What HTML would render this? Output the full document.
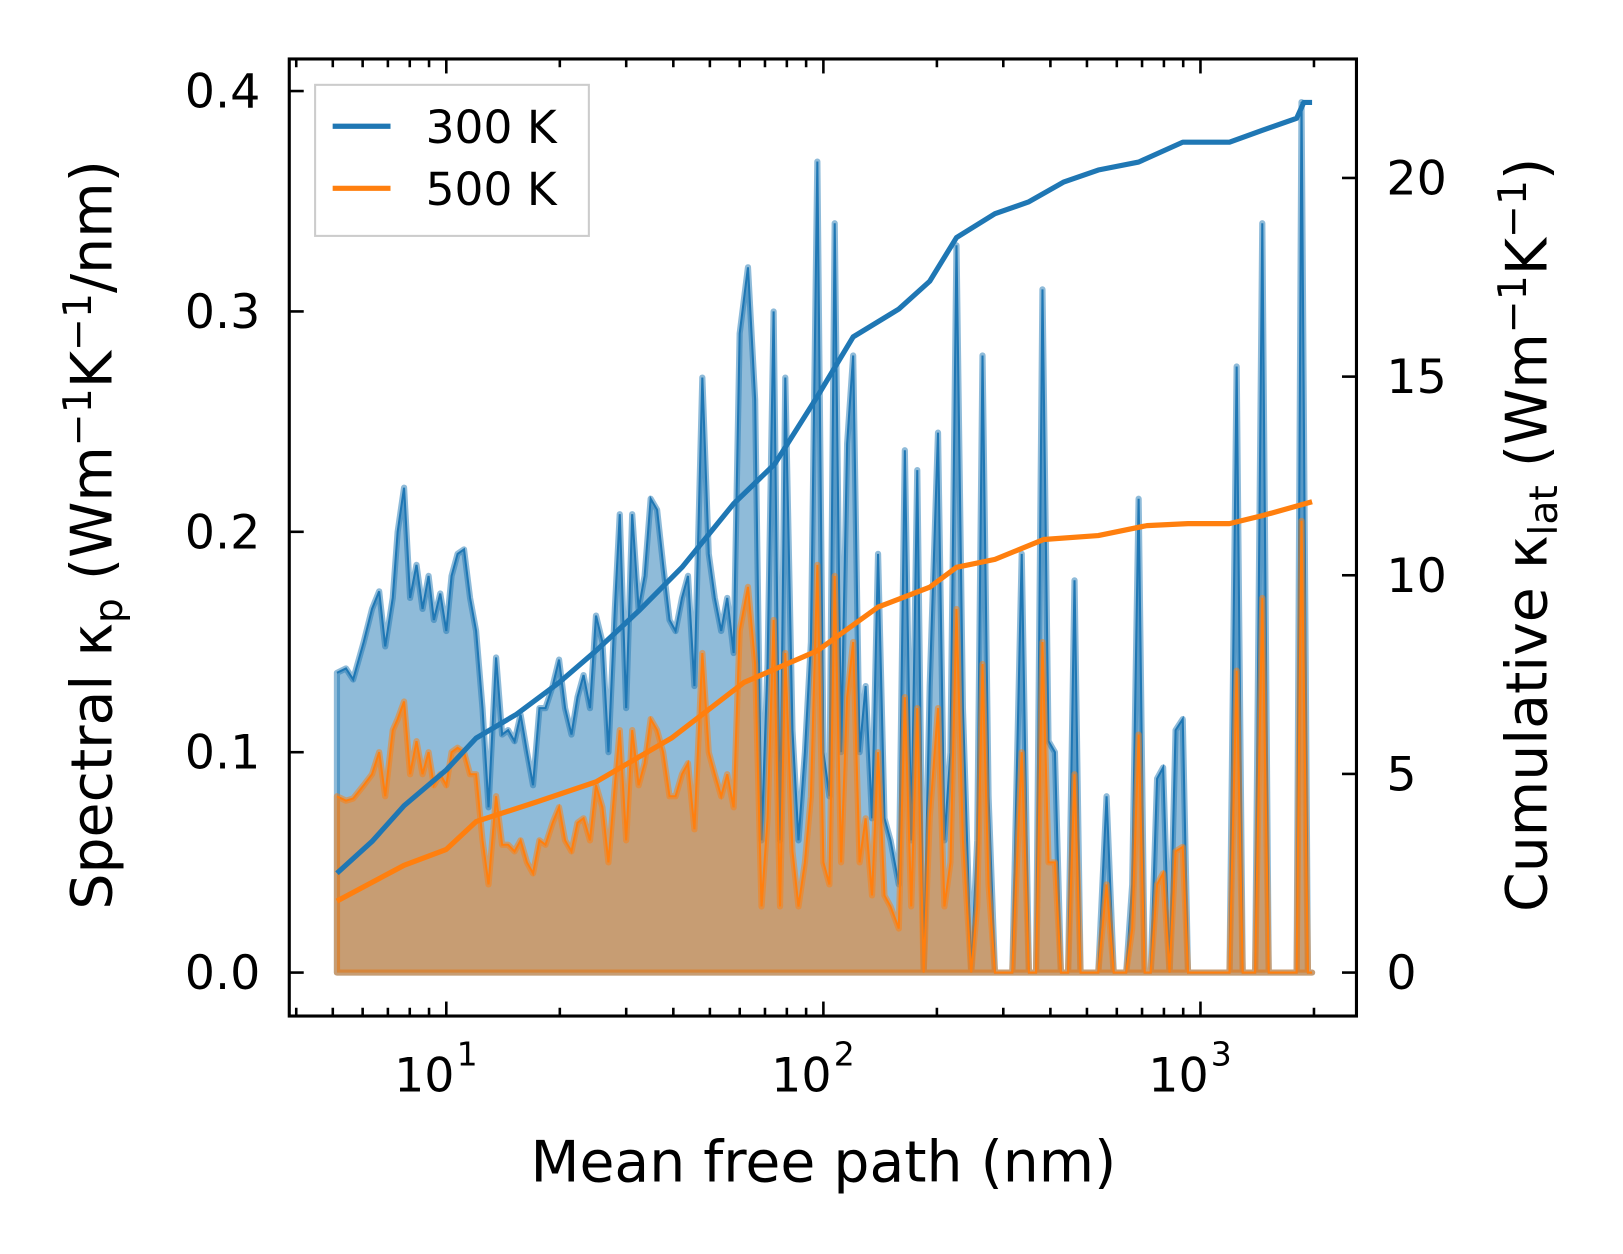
<!DOCTYPE html>
<html><head><meta charset="utf-8">
<style>html,body{margin:0;padding:0;background:#fff}svg{display:block}text{font-family:"DejaVu Sans","Liberation Sans",sans-serif;fill:#000}</style>
</head><body>
<svg id="chart" width="1623" height="1254" viewBox="0 0 1571 1212" preserveAspectRatio="none" xmlns="http://www.w3.org/2000/svg">
<g id="plot"></g>
</svg>
<script>
// log10 of mean free path (nm)
const logMfp = [0.710,0.734,0.753,0.781,0.803,0.822,0.838,0.858,0.871,0.888,0.904,0.921,0.937,0.953,0.967,0.984,1.000,1.014,1.030,1.047,1.063,1.079,1.096,1.112,1.132,1.148,1.164,1.181,1.197,1.214,1.230,1.247,1.263,1.282,1.299,1.315,1.332,1.348,1.364,1.381,1.397,1.414,1.430,1.447,1.460,1.477,1.493,1.510,1.526,1.542,1.559,1.575,1.592,1.608,1.625,1.641,1.658,1.679,1.696,1.712,1.729,1.745,1.762,1.778,1.800,1.819,1.836,1.852,1.868,1.885,1.899,1.918,1.934,1.951,1.967,1.984,2.000,2.016,2.030,2.047,2.063,2.079,2.096,2.112,2.129,2.145,2.162,2.178,2.200,2.216,2.233,2.249,2.266,2.282,2.304,2.321,2.337,2.353,2.370,2.392,2.408,2.422,2.438,2.455,2.479,2.501,2.526,2.545,2.564,2.581,2.597,2.614,2.630,2.649,2.666,2.682,2.729,2.751,2.770,2.803,2.819,2.836,2.852,2.868,2.885,2.901,2.918,2.934,2.953,2.967,2.981,3.077,3.096,3.112,3.145,3.164,3.181,3.255,3.268,3.285,3.296];
const spec300 = [0.136,0.138,0.133,0.15,0.165,0.173,0.148,0.17,0.2,0.22,0.17,0.185,0.165,0.18,0.16,0.172,0.155,0.18,0.19,0.192,0.17,0.155,0.12,0.075,0.143,0.108,0.11,0.105,0.117,0.1,0.085,0.12,0.12,0.13,0.142,0.12,0.108,0.125,0.135,0.12,0.162,0.15,0.1,0.165,0.208,0.12,0.208,0.165,0.18,0.215,0.21,0.185,0.16,0.155,0.17,0.18,0.13,0.27,0.19,0.17,0.155,0.17,0.145,0.29,0.32,0.26,0.06,0.14,0.3,0.06,0.27,0.11,0.06,0.1,0.15,0.368,0.1,0.08,0.34,0.1,0.24,0.28,0.1,0.13,0.07,0.19,0.07,0.06,0.04,0.237,0.06,0.228,0.0,0.13,0.245,0.06,0.1,0.33,0.12,0.0,0.06,0.28,0.08,0.0,0.0,0.0,0.19,0.0,0.0,0.31,0.105,0.1,0.0,0.0,0.178,0.0,0.0,0.08,0.0,0.0,0.04,0.215,0.0,0.0,0.088,0.093,0.0,0.11,0.115,0.0,0.0,0.0,0.275,0.0,0.0,0.34,0.0,0.0,0.395,0.0,0.0];
const spec500 = [0.08,0.078,0.079,0.085,0.09,0.1,0.08,0.11,0.115,0.123,0.09,0.105,0.09,0.1,0.085,0.09,0.085,0.1,0.102,0.1,0.09,0.09,0.06,0.04,0.08,0.058,0.058,0.055,0.06,0.05,0.045,0.06,0.058,0.068,0.075,0.06,0.055,0.068,0.07,0.06,0.085,0.075,0.05,0.085,0.11,0.06,0.11,0.085,0.095,0.115,0.11,0.1,0.08,0.08,0.09,0.095,0.065,0.145,0.1,0.09,0.08,0.09,0.075,0.155,0.175,0.14,0.03,0.07,0.16,0.03,0.145,0.055,0.03,0.05,0.08,0.185,0.05,0.04,0.18,0.05,0.125,0.15,0.05,0.07,0.035,0.1,0.035,0.03,0.02,0.125,0.03,0.12,0.0,0.07,0.12,0.03,0.05,0.165,0.06,0.0,0.03,0.14,0.04,0.0,0.0,0.0,0.1,0.0,0.0,0.15,0.05,0.05,0.0,0.0,0.09,0.0,0.0,0.04,0.0,0.0,0.02,0.108,0.0,0.0,0.04,0.045,0.0,0.055,0.057,0.0,0.0,0.0,0.137,0.0,0.0,0.17,0.0,0.0,0.205,0.0,0.0];
// cumulative kappa (W/mK)
const cumLog300 = [0.710,0.803,0.888,1.000,1.079,1.186,1.299,1.397,1.510,1.625,1.762,1.871,1.984,2.079,2.200,2.282,2.353,2.455,2.545,2.638,2.729,2.836,2.953,3.077,3.164,3.255,3.274,3.296];
const cum300 = [2.5,3.3,4.2,5.1,5.9,6.5,7.3,8.1,9.1,10.2,11.8,12.8,14.5,16.0,16.7,17.4,18.5,19.1,19.4,19.9,20.2,20.4,20.9,20.9,21.2,21.5,21.9,21.9];
const cumLog500 = [0.710,0.888,1.000,1.079,1.241,1.397,1.597,1.789,1.984,2.145,2.282,2.353,2.455,2.584,2.729,2.858,2.967,3.077,3.164,3.296];
const cum500 = [1.8,2.7,3.1,3.8,4.3,4.8,5.9,7.3,8.1,9.2,9.7,10.2,10.4,10.9,11.0,11.25,11.3,11.3,11.5,11.85];
const leftTicks = [0.0,0.1,0.2,0.3,0.4];
const leftTickLabels = ["0.0","0.1","0.2","0.3","0.4"];
const rightTicks = [0,5,10,15,20];
const xMajor = [1,2,3];

const L=280,R=1313,T=57,B=982;
const X = lg => 432 + (lg-1)*365;
const Y1 = v => 940 - v*2130;
const Y2 = v => 940 - v*38.4;
const NS="http://www.w3.org/2000/svg";
const g=document.getElementById('plot');
function mk(tag,attrs,parent){const e=document.createElementNS(NS,tag);for(const k in attrs)e.setAttribute(k,attrs[k]);(parent||g).appendChild(e);return e;}

function areaPath(vals){let d=`M${X(logMfp[0])},${Y1(0)}`;logMfp.forEach((l,i)=>{d+=`L${X(l)},${Y1(vals[i])}`});d+=`L${X(logMfp[logMfp.length-1])},${Y1(0)}Z`;return d;}
function linePath(xs,ys,fy){return xs.map((l,i)=>(i?'L':'M')+X(l)+','+fy(ys[i])).join('');}

let e=mk('path',{d:areaPath(spec300),fill:'#1f77b4','fill-opacity':0.5,stroke:'#1f77b4','stroke-opacity':0.5,'stroke-width':6,'stroke-linejoin':'round'});


e=mk('path',{d:linePath(logMfp,spec300,Y1),fill:'none',stroke:'#1f77b4','stroke-width':2});


e=mk('path',{d:areaPath(spec500),fill:'#ff7f0e','fill-opacity':0.5,stroke:'#ff7f0e','stroke-opacity':0.5,'stroke-width':6,'stroke-linejoin':'round'});


e=mk('path',{d:linePath(logMfp,spec500,Y1),fill:'none',stroke:'#ff7f0e','stroke-width':2});


e=mk('path',{d:linePath(cumLog300,cum300,Y2),fill:'none',stroke:'#1f77b4','stroke-width':5,'stroke-linejoin':'round'});


e=mk('path',{d:linePath(cumLog500,cum500,Y2),fill:'none',stroke:'#ff7f0e','stroke-width':5,'stroke-linejoin':'round'});



e=mk('rect',{x:L,y:T,width:R-L,height:B-T,fill:'none',stroke:'#000','stroke-width':3});



for(let d=0;d<=3;d++){for(let m=1;m<=9;m++){const lg=d+Math.log10(m);const px=X(lg);if(px<=L+1||px>=R-1)continue;const len=m===1?14:8;
 e=mk('line',{x1:px,x2:px,y1:B,y2:B-len,stroke:'#000','stroke-width':2.5});
 
 
 mk('line',{x1:px,x2:px,y1:T,y2:T+len,stroke:'#000','stroke-width':2.5});}}
xMajor.forEach(p=>{const t=mk('text',{x:X(p)+8,y:1055,'font-size':46,'text-anchor':'end'});t.textContent='10';
 
 
 const s=mk('text',{x:X(p)+10,y:1030,'font-size':32});s.textContent=String(p);});
leftTicks.forEach((v,i)=>{mk('line',{x1:L,x2:L+14,y1:Y1(v),y2:Y1(v),stroke:'#000','stroke-width':2.5});
 const t=mk('text',{x:252,y:Y1(v)+16,'font-size':46,'text-anchor':'end'});t.textContent=leftTickLabels[i];
 
 });
rightTicks.forEach(v=>{mk('line',{x1:R,x2:R-14,y1:Y2(v),y2:Y2(v),stroke:'#000','stroke-width':2.5});
 const t=mk('text',{x:1342,y:Y2(v)+16,'font-size':46});t.textContent=String(v);
 
 });
</script>
<svg style="position:absolute;left:0;top:0" width="1623" height="1254" viewBox="0 0 1571 1212" preserveAspectRatio="none" xmlns="http://www.w3.org/2000/svg">
<text x="797" y="1142" font-size="55" text-anchor="middle" style="font-family:'DejaVu Sans',sans-serif">Mean free path (nm)</text>
<text transform="translate(108,517) rotate(-90)" font-size="55" text-anchor="middle" style="font-family:'DejaVu Sans',sans-serif">Spectral κ<tspan font-size="38" dy="10">p</tspan><tspan dy="-10"> (Wm</tspan><tspan font-size="38" dy="-20">−1</tspan><tspan dy="20">K</tspan><tspan font-size="38" dy="-20">−1</tspan><tspan dy="20">/nm)</tspan></text>
<text transform="translate(1497,517) rotate(-90)" font-size="55" text-anchor="middle" style="font-family:'DejaVu Sans',sans-serif">Cumulative κ<tspan font-size="38" dy="10">lat</tspan><tspan dy="-10"> (Wm</tspan><tspan font-size="38" dy="-20">−1</tspan><tspan dy="20">K</tspan><tspan font-size="38" dy="-20">−1</tspan><tspan dy="20">)</tspan></text>
<g>
<rect x="305" y="82" width="265" height="146" fill="#fff" fill-opacity="0.8" stroke="#ccc" stroke-width="2"/>
<line x1="322" x2="378" y1="122" y2="122" stroke="#1f77b4" stroke-width="5"/>
<text x="412" y="138" font-size="44" style="font-family:'DejaVu Sans',sans-serif">300 K</text>
<line x1="322" x2="378" y1="182" y2="182" stroke="#ff7f0e" stroke-width="5"/>
<text x="412" y="198" font-size="44" style="font-family:'DejaVu Sans',sans-serif">500 K</text>
</g>
</svg>
</body></html>
